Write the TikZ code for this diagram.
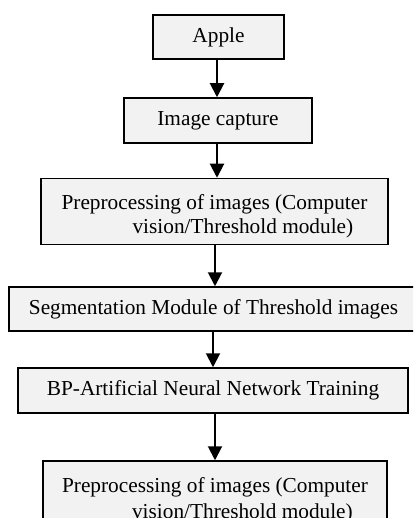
\documentclass[tikz,border=0pt]{standalone}
\usepackage{fontspec}
\setmainfont{Liberation Serif}
\usetikzlibrary{arrows.meta}
\definecolor{boxfill}{RGB}{242,242,242}
\begin{document}
\begin{tikzpicture}[x=1pt,y=-1pt,
  box/.style={draw=black,line width=1.5pt,fill=boxfill,inner sep=0pt,
    font=\fontsize{21.3}{24}\selectfont,text=black},
  flow/.style={line width=2pt,-{Triangle[length=14pt,width=14pt]}}]
\useasboundingbox[fill=white] (0,0) rectangle (413,518);
\begin{scope}
\clip (0,0) rectangle (413,518);
\node[box,minimum width=131pt,minimum height=44pt] (apple) at (218.5,37) {Apple};
\node[box,minimum width=188pt,minimum height=45pt] (capture) at (218,120.5) {Image capture};
\node[box,minimum width=347pt,minimum height=66pt,align=left] (pre1) at (214.5,211.5)
  {\rule{0pt}{25pt}Preprocessing of images (Computer\\\hspace*{71pt}vision/Threshold module)};
\node[box,minimum width=344pt,minimum height=68pt,align=left,
  font=\fontsize{21.3}{26}\selectfont] (pre2) at (215,495)
  {\rule{0pt}{25pt}Preprocessing of images (Computer\\\hspace*{70pt}vision/Threshold module)};
\node[box,minimum width=409pt,minimum height=44pt] (seg) at (213.5,309) {Segmentation Module of Threshold images};
\node[box,minimum width=390pt,minimum height=45pt] (bp) at (213,390.5) {BP-Artificial Neural Network Training};
\coordinate (a1) at (217,0);
\coordinate (a3) at (215,0);
\coordinate (a4) at (213,0);
\draw[flow] (a1 |- apple.south) -- (a1 |- capture.north);
\draw[flow] (a1 |- capture.south) -- (a1 |- pre1.north);
\draw[flow] (a3 |- pre1.south) -- (a3 |- seg.north);
\draw[flow] (a4 |- seg.south) -- (a4 |- bp.north);
\draw[flow] (a3 |- bp.south) -- (a3 |- pre2.north);
\end{scope}
\end{tikzpicture}
\end{document}
